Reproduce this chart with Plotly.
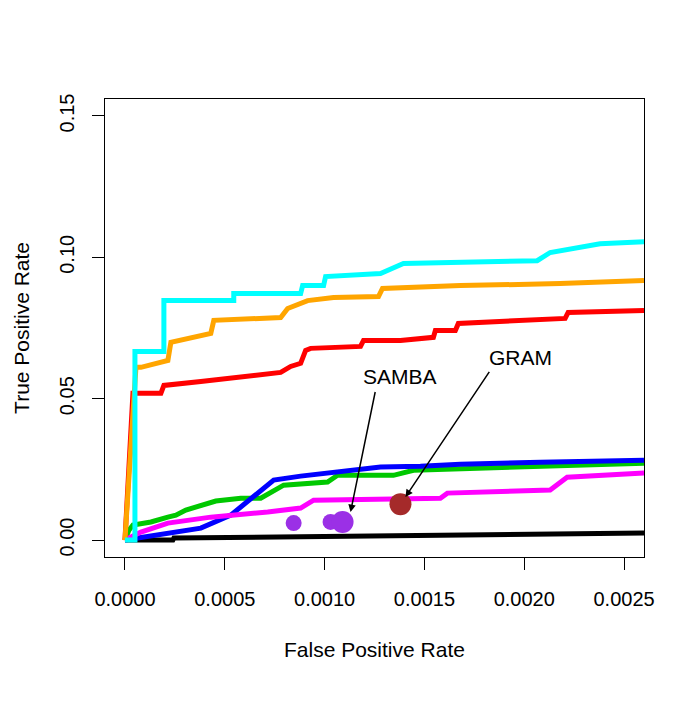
import plotly.graph_objects as go

# ROC-like curves (False Positive Rate, True Positive Rate)
cyan_x = [0, 0.00005, 0.00005, 0.000195, 0.000195, 0.000545, 0.000545, 0.00088, 0.00089, 0.000995, 0.001005, 0.00128, 0.001395, 0.00158, 0.002065, 0.00213, 0.00238, 0.0026]
cyan_y = [0, 0, 0.0667, 0.0667, 0.0847, 0.0847, 0.0872, 0.0872, 0.0900, 0.0900, 0.0932, 0.0943, 0.0978, 0.0981, 0.0988, 0.1017, 0.1048, 0.1055]

orange_x = [0, 0.00004, 0.000055, 0.00008, 0.00019, 0.000215, 0.00023, 0.00028, 0.00043, 0.000445, 0.00078, 0.000815, 0.000915, 0.001045, 0.00127, 0.00129, 0.00168, 0.00218, 0.0026]
orange_y = [0, 0.0494, 0.0611, 0.0611, 0.0628, 0.0635, 0.0699, 0.0706, 0.0731, 0.0777, 0.0787, 0.0819, 0.0847, 0.0858, 0.0861, 0.0890, 0.0900, 0.0907, 0.0918]

red_x = [0, 0.00001, 0.00002, 0.00004, 0.00018, 0.000195, 0.00038, 0.00078, 0.00083, 0.00088, 0.000905, 0.00093, 0.00118, 0.001195, 0.00138, 0.001545, 0.001555, 0.001655, 0.00167, 0.002205, 0.00222, 0.0026]
red_y = [0, 0.0141, 0.0247, 0.0519, 0.0519, 0.0547, 0.0561, 0.0593, 0.0614, 0.0625, 0.0671, 0.0678, 0.0685, 0.0706, 0.0706, 0.0717, 0.0741, 0.0741, 0.0766, 0.0784, 0.0805, 0.0812]

blue_x = [0, 0.00018, 0.00038, 0.00053, 0.000745, 0.00088, 0.001045, 0.00128, 0.00148, 0.00168, 0.00208, 0.0026]
blue_y = [0, 0.0018, 0.0042, 0.0088, 0.0212, 0.0226, 0.0240, 0.0258, 0.0261, 0.0268, 0.0275, 0.0282]

green_x = [0, 0.00002, 0.00004, 0.00013, 0.000215, 0.000255, 0.000305, 0.00038, 0.000455, 0.00058, 0.00068, 0.000795, 0.001015, 0.001065, 0.001345, 0.001445, 0.00188, 0.0026]
green_y = [0, 0.0035, 0.0053, 0.0064, 0.0081, 0.0088, 0.0106, 0.0124, 0.0138, 0.0148, 0.0148, 0.0194, 0.0205, 0.0229, 0.0229, 0.0247, 0.0258, 0.0272]

magenta_x = [0, 0.00008, 0.000215, 0.00043, 0.000715, 0.00088, 0.000945, 0.00158, 0.001615, 0.00213, 0.002215, 0.0026]
magenta_y = [0, 0.0028, 0.0060, 0.0081, 0.0099, 0.0113, 0.0141, 0.0148, 0.0166, 0.0177, 0.0222, 0.0237]

black_x = [0, 0.00024, 0.000245, 0.00073, 0.00074, 0.00168, 0.002165, 0.0026]
black_y = [0, 0, 0.0007, 0.0011, 0.0014, 0.0021, 0.0025, 0.0025]

# single-point predictors
samba_x = [0.000845, 0.00103, 0.00109]
samba_y = [0.0060, 0.0064, 0.0064]
samba_size = [16, 16, 22]
gram_x = [0.00138]
gram_y = [0.0127]

x_ticks = [0, 0.0005, 0.001, 0.0015, 0.002, 0.0025]
y_ticks = [0, 0.05, 0.10, 0.15]

FONT = "Liberation Sans, Arial, sans-serif"

fig = go.Figure()
series = [
    (black_x, black_y, "black"),
    (green_x, green_y, "#00C800"),
    (blue_x, blue_y, "#0000FF"),
    (magenta_x, magenta_y, "#FF00FF"),
    (red_x, red_y, "#FF0000"),
    (orange_x, orange_y, "#FFA500"),
    (cyan_x, cyan_y, "#00FFFF"),
]
for xs, ys, col in series:
    fig.add_trace(go.Scatter(x=xs, y=ys, mode="lines",
                             line=dict(color=col, width=5), showlegend=False))

fig.add_trace(go.Scatter(x=samba_x, y=samba_y, mode="markers",
                         marker=dict(color="#9B30E6", size=samba_size, opacity=1,
                                     line=dict(width=0)),
                         showlegend=False))
fig.add_trace(go.Scatter(x=gram_x, y=gram_y, mode="markers",
                         marker=dict(color="#A52A2A", size=22, opacity=1, line=dict(width=0)),
                         showlegend=False))

# labels and arrows
fig.add_annotation(x=0.00138, y=0.0579, text="SAMBA", showarrow=False,
                   font=dict(family=FONT, size=21, color="black"))
fig.add_annotation(x=0.00198, y=0.0646, text="GRAM", showarrow=False,
                   font=dict(family=FONT, size=21, color="black"))
fig.add_annotation(x=0.00113, y=0.0099, ax=0.001255, ay=0.0529, axref="x", ayref="y",
                   text="", showarrow=True, arrowhead=2, arrowsize=1, arrowwidth=1.5,
                   arrowcolor="black")
fig.add_annotation(x=0.001405, y=0.0152, ax=0.00183, ay=0.0600, axref="x", ayref="y",
                   text="", showarrow=True, arrowhead=2, arrowsize=1, arrowwidth=1.5,
                   arrowcolor="black")

# axis titles
fig.add_annotation(xref="paper", yref="paper", x=0.5, y=-0.203, text="False Positive Rate",
                   showarrow=False, font=dict(family=FONT, size=21, color="black"),
                   xanchor="center", yanchor="middle")
fig.add_annotation(xref="paper", yref="paper", x=-0.156, y=0.5, text="True Positive Rate",
                   showarrow=False, textangle=-90, borderpad=0,
                   font=dict(family=FONT, size=21, color="black"),
                   xanchor="center", yanchor="middle")

# page body has an 8px margin, so margins are offset by 8px
fig.update_layout(
    width=685, height=719,
    margin=dict(l=97, r=49, t=91, b=170),
    plot_bgcolor="white", paper_bgcolor="white",
    font=dict(family=FONT, size=20, color="black"),
    showlegend=False,
)
fig.update_xaxes(range=[-0.0001, 0.0026], tickvals=x_ticks, tickformat=".4f",
                 showgrid=False, zeroline=False, showline=True, mirror=True,
                 linecolor="black", linewidth=1, ticks="outside", ticklen=12,
                 tickcolor="black", tickwidth=1, ticklabelstandoff=12,
                 tickfont=dict(family=FONT, size=20, color="black"))
fig.update_yaxes(range=[-0.006, 0.156], tickvals=y_ticks, tickformat=".2f",
                 showgrid=False, zeroline=False, showline=True, mirror=True,
                 linecolor="black", linewidth=1, ticks="outside", ticklen=12,
                 tickcolor="black", tickwidth=1, tickangle=-90, ticklabelstandoff=10,
                 tickfont=dict(family=FONT, size=20, color="black"))

fig.write_html("out.html")
